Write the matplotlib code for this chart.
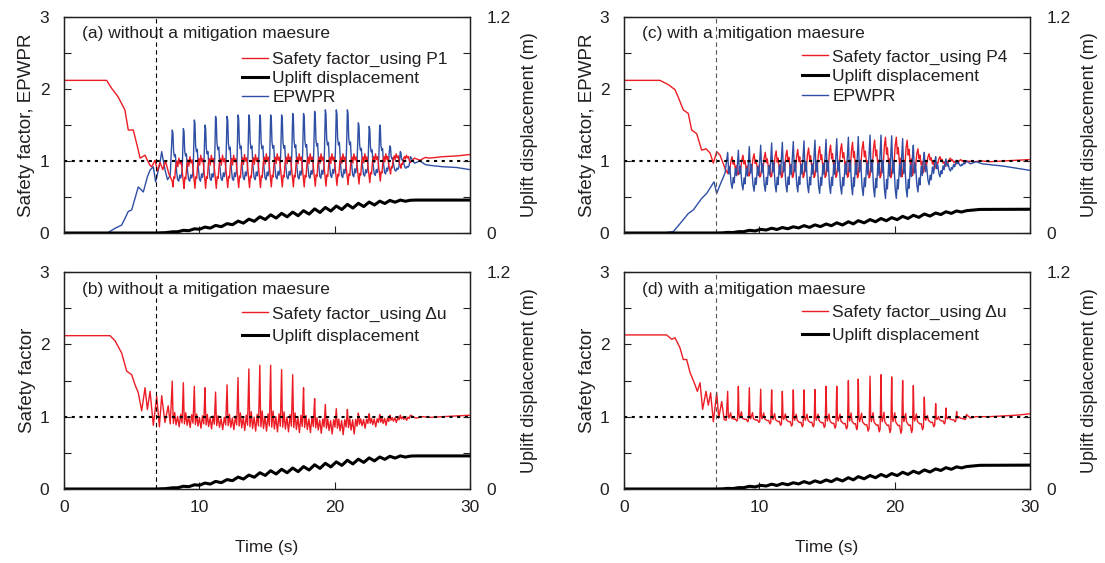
import matplotlib
matplotlib.use("Agg")
import matplotlib.pyplot as plt
from matplotlib.lines import Line2D

plt.rcParams['font.family'] = ['Liberation Sans', 'DejaVu Sans']
plt.rcParams['font.size'] = 12.5
TXT = '#231f20'
RED = '#ec1c24'
BLUE = '#2f4fa5'

# ---------------- shaking cycles (spike times, s) ----------------
cycles_left = [8.0, 8.82, 9.63, 10.42, 11.2, 12.05, 12.86, 13.66, 14.47, 15.27, 16.08,
               16.9, 17.7, 18.52, 19.31, 20.12, 20.94, 21.75, 22.55, 23.33, 24.08, 24.85, 25.6]
cycles_right = [7.66, 8.45, 9.26, 10.1, 10.91, 11.7, 12.51, 13.3, 14.11, 14.93, 15.72,
                16.58, 17.31, 18.18, 18.99, 19.78, 20.59, 21.38, 22.19, 23.03, 23.79, 24.58, 25.3]

# ---------------- (a) safety factor using P1 ----------------
sf_p1_lead_t = [0, 3.15, 3.52, 4.0, 4.5, 4.75, 5.12, 5.49, 5.62, 5.99, 6.16, 6.36, 6.48,
                6.73, 6.9, 7.1, 7.3, 7.5, 7.75]
sf_p1_lead_v = [2.12, 2.12, 2.01, 1.89, 1.71, 1.43, 1.43, 1.15, 1.04, 1.08, 1.01, 0.94, 0.92,
                1.01, 0.86, 0.98, 0.88, 1.0, 0.82]
sf_p1_peak = [1.04, 1.06, 1.08, 1.08, 1.08, 1.08, 1.09, 1.09, 1.10, 1.10, 1.10,
              1.10, 1.10, 1.10, 1.10, 1.10, 1.10, 1.10, 1.10, 1.10, 1.10, 1.08]
sf_p1_trough = [0.64, 0.62, 0.62, 0.62, 0.62, 0.63, 0.63, 0.63, 0.63, 0.64, 0.64,
                0.64, 0.64, 0.65, 0.65, 0.66, 0.67, 0.68, 0.70, 0.72, 0.82, 0.90]
sf_p1_tail_t = [25.6, 25.9, 26.3, 26.7, 27.0, 28.0, 29.0, 30.0]
sf_p1_tail_v = [0.98, 1.04, 1.01, 1.05, 1.04, 1.06, 1.07, 1.09]

# ---------------- (a) EPWPR ----------------
epwpr_a_lead_t = [0, 3.2, 3.77, 4.26, 4.5, 4.75, 5.0, 5.2, 5.49, 5.86, 6.16, 6.36, 6.6,
                  6.77, 7.09, 7.22, 7.47, 7.65, 7.85]
epwpr_a_lead_v = [0, 0, 0.065, 0.11, 0.2, 0.30, 0.32, 0.45, 0.64, 0.57, 0.78, 0.875, 0.92,
                  0.71, 0.97, 1.13, 0.87, 0.74, 0.8]
epwpr_a_peak = [1.43, 1.45, 1.57, 1.50, 1.62, 1.62, 1.64, 1.64, 1.64, 1.64, 1.64,
                1.66, 1.66, 1.69, 1.71, 1.71, 1.71, 1.53, 1.48, 1.50, 1.21, 1.13]
epwpr_a_trough = [0.72, 0.72, 0.72, 0.73, 0.73, 0.73, 0.74, 0.74, 0.74, 0.75, 0.75,
                  0.75, 0.76, 0.76, 0.77, 0.77, 0.78, 0.79, 0.80, 0.82, 0.86, 0.90]
epwpr_a_tail_t = [25.6, 25.9, 26.3, 26.7, 27.0, 28.0, 29.0, 30.0]
epwpr_a_tail_v = [1.06, 0.97, 1.0, 0.95, 0.94, 0.92, 0.91, 0.88]

# ---------------- (b) safety factor using du ----------------
sf_du_b_lead_t = [0, 3.4, 3.77, 4.26, 4.63, 5.0, 5.25, 5.49, 5.74, 5.99, 6.16, 6.36, 6.6,
                  6.85, 7.05, 7.22, 7.46, 7.7, 7.85]
sf_du_b_lead_v = [2.12, 2.12, 2.05, 1.88, 1.63, 1.58, 1.44, 1.33, 1.08, 1.40, 1.10, 1.35, 0.88,
                  1.28, 0.86, 1.29, 0.92, 1.15, 0.9]
sf_du_b_peak = [1.49, 1.47, 1.42, 1.40, 1.34, 1.44, 1.54, 1.66, 1.71, 1.71, 1.65,
                1.58, 1.40, 1.25, 1.17, 1.11, 1.10, 1.05, 1.04, 1.03, 1.02, 1.02]
sf_du_b_base = [0.95, 0.95, 0.94, 0.94, 0.93, 0.93, 0.93, 0.92, 0.92, 0.92, 0.92,
                0.92, 0.92, 0.92, 0.92, 0.93, 0.94, 0.95, 0.96, 0.97, 0.98, 0.99]
sf_du_b_trough = [0.86, 0.85, 0.84, 0.83, 0.82, 0.82, 0.81, 0.80, 0.80, 0.79, 0.79,
                  0.78, 0.78, 0.77, 0.76, 0.75, 0.76, 0.84, 0.86, 0.88, 0.92, 0.95]
sf_du_b_tail_t = [25.6, 26.0, 26.5, 27.0, 28.0, 29.0, 30.0]
sf_du_b_tail_v = [1.02, 0.98, 1.0, 0.99, 1.0, 1.01, 1.02]

# ---------------- uplift displacement, without mitigation (m) ----------------
uplift_l_lead_t = [0, 6.7, 7.5]
uplift_l_lead_v = [0, 0, 0.002]
uplift_l_upper = [0.0065, 0.015, 0.023, 0.033, 0.042, 0.052, 0.066, 0.077, 0.090, 0.101, 0.109,
                  0.116, 0.124, 0.134, 0.142, 0.150, 0.159, 0.165, 0.172, 0.177, 0.181, 0.183]
uplift_l_lower = [0.007, 0.013, 0.021, 0.027, 0.035, 0.046, 0.055, 0.065, 0.075, 0.083, 0.090,
                  0.096, 0.105, 0.114, 0.122, 0.1305, 0.1385, 0.147, 0.1555, 0.164, 0.171, 0.1765]
uplift_l_tail_t = [25.6, 26.0, 30.0]
uplift_l_tail_v = [0.182, 0.183, 0.183]

# ---------------- (c) safety factor using P4 ----------------
sf_p4_lead_t = [0, 2.66, 3.28, 3.77, 4.0, 4.38, 4.75, 5.0, 5.37, 5.74, 6.06, 6.36, 6.6,
                6.85, 7.1, 7.46]
sf_p4_lead_v = [2.12, 2.12, 2.06, 1.99, 1.89, 1.71, 1.66, 1.43, 1.38, 1.15, 1.17, 1.11, 0.97,
                1.13, 1.08, 0.90]
sf_p4_peak = [1.06, 1.08, 1.10, 1.12, 1.14, 1.15, 1.16, 1.18, 1.20, 1.22, 1.24,
              1.26, 1.27, 1.29, 1.33, 1.33, 1.29, 1.17, 1.10, 1.06, 1.04, 1.02]
sf_p4_trough = [0.80, 0.78, 0.76, 0.76, 0.75, 0.75, 0.75, 0.75, 0.75, 0.75, 0.75,
                0.74, 0.74, 0.74, 0.74, 0.75, 0.77, 0.82, 0.88, 0.92, 0.95, 0.97]
sf_p4_tail_t = [25.3, 25.8, 26.5, 27.0, 28.0, 29.0, 30.0]
sf_p4_tail_v = [1.0, 0.99, 1.0, 0.99, 1.0, 1.01, 1.02]

# ---------------- (c) EPWPR ----------------
epwpr_c_lead_t = [0, 2.9, 3.65, 4.14, 4.75, 5.12, 5.74, 6.11, 6.65, 6.85, 7.1, 7.46]
epwpr_c_lead_v = [0, 0, 0.02, 0.13, 0.27, 0.32, 0.48, 0.55, 0.71, 0.55, 0.67, 0.83]
epwpr_c_peak = [1.12, 1.15, 1.20, 1.22, 1.25, 1.26, 1.27, 1.28, 1.29, 1.30, 1.31,
                1.33, 1.34, 1.36, 1.36, 1.35, 1.31, 1.22, 1.12, 1.06, 1.03, 1.01]
epwpr_c_trough = [0.62, 0.60, 0.58, 0.58, 0.57, 0.57, 0.57, 0.56, 0.55, 0.55, 0.54,
                  0.53, 0.52, 0.50, 0.48, 0.48, 0.50, 0.57, 0.67, 0.78, 0.86, 0.93]
epwpr_c_tail_t = [25.3, 25.6, 26.0, 26.5, 27.0, 28.0, 29.0, 30.0]
epwpr_c_tail_v = [1.0, 0.96, 0.99, 0.96, 0.95, 0.93, 0.90, 0.87]

# ---------------- (d) safety factor using du ----------------
sf_du_d_lead_t = [0, 3.15, 3.52, 3.77, 4.14, 4.38, 4.63, 4.88, 5.25, 5.42, 5.62, 5.81, 6.06,
                  6.23, 6.4, 6.6, 6.85, 7.0, 7.22, 7.4, 7.55]
sf_du_d_lead_v = [2.13, 2.13, 2.07, 2.09, 1.95, 1.79, 1.79, 1.61, 1.44, 1.35, 1.47, 1.10, 1.35,
                  1.16, 1.33, 0.93, 1.33, 0.98, 1.21, 0.96, 0.95]
sf_du_d_peak = [1.35, 1.42, 1.40, 1.38, 1.37, 1.35, 1.37, 1.37, 1.375, 1.42, 1.42,
                1.50, 1.52, 1.56, 1.58, 1.55, 1.50, 1.43, 1.27, 1.18, 1.12, 1.07]
sf_du_d_base = [0.98, 0.98, 0.97, 0.97, 0.96, 0.96, 0.95, 0.95, 0.95, 0.94, 0.94,
                0.94, 0.93, 0.93, 0.93, 0.93, 0.93, 0.94, 0.95, 0.96, 0.97, 0.98]
sf_du_d_trough = [0.94, 0.93, 0.92, 0.90, 0.88, 0.87, 0.86, 0.86, 0.85, 0.84, 0.83,
                  0.82, 0.80, 0.79, 0.78, 0.77, 0.78, 0.82, 0.86, 0.90, 0.93, 0.96]
sf_du_d_tail_t = [25.3, 25.6, 26.0, 27.0, 28.0, 29.0, 30.0]
sf_du_d_tail_v = [1.03, 0.98, 1.0, 1.0, 1.01, 1.02, 1.04]

# ---------------- uplift displacement, with mitigation (m) ----------------
uplift_r_lead_t = [0, 6.7, 7.3]
uplift_r_lead_v = [0, 0, 0.001]
uplift_r_upper = [0.0035, 0.0075, 0.015, 0.020, 0.0265, 0.0305, 0.0345, 0.041, 0.045, 0.050, 0.0565,
                  0.0625, 0.0685, 0.0745, 0.0805, 0.0855, 0.0925, 0.0985, 0.1055, 0.111, 0.118, 0.1225]
uplift_r_lower = [0.0025, 0.0075, 0.0115, 0.0165, 0.0195, 0.0235, 0.028, 0.031, 0.0355, 0.0405, 0.0445,
                  0.0505, 0.0565, 0.0625, 0.068, 0.074, 0.0805, 0.087, 0.094, 0.1025, 0.109, 0.1165]
uplift_r_tail_t = [25.3, 26.3, 30.0]
uplift_r_tail_v = [0.124, 0.131, 0.132]

liquefaction_onset = 6.77

# waveform of one loading cycle: (fraction of cycle, weight)
# two-level shapes: weight 0 = trough, 1 = peak
# three-level shapes: weight 1 = peak, 0 = base level, -1 = trough
SHAPE_EPWPR_SPIKE = [(0.0, 1.0), (0.06, 0.94), (0.12, 0.58), (0.2, 0.48), (0.28, 0.52),
                     (0.38, 0.2), (0.48, 0.03), (0.58, 0.0), (0.68, 0.12), (0.76, 0.06),
                     (0.86, 0.15), (0.92, 0.4)]
SHAPE_SF_P1 = [(0.0, 0.2), (0.06, 0.0), (0.14, 0.35), (0.22, 0.3), (0.32, 0.75), (0.42, 0.9),
               (0.5, 0.7), (0.6, 1.0), (0.7, 0.8), (0.8, 0.9), (0.9, 0.55)]
SHAPE_SF_DU_B = [(0.0, 1.0), (0.05, 0.3), (0.1, -0.5), (0.22, 0.2), (0.34, -0.7), (0.48, 0.1),
                 (0.62, -1.0), (0.76, 0.15), (0.88, -0.4)]
SHAPE_SF_DU_D = [(0.0, 1.0), (0.06, 0.1), (0.12, 0.0), (0.2, 0.1), (0.28, 0.2), (0.36, 0.0),
                 (0.48, -0.2), (0.6, -0.35), (0.72, -0.3), (0.84, -1.0), (0.92, -0.7)]
SHAPE_EPWPR_C = [(0.0, 1.0), (0.1, 0.4), (0.2, 0.6), (0.32, 0.15), (0.42, 0.0), (0.52, 0.3),
                 (0.6, 0.15), (0.72, 0.55), (0.82, 0.35), (0.92, 0.7)]
SHAPE_SF_P4 = [(0.0, 0.1), (0.1, 0.45), (0.2, 0.3), (0.32, 0.8), (0.42, 1.0), (0.52, 0.6),
               (0.6, 0.75), (0.72, 0.35), (0.82, 0.5), (0.92, 0.05)]
SHAPE_UPLIFT = [(0.0, 1.0), (0.5, 0.0)]


def series(lead_t, lead_v, times, peaks, troughs, shape, tail_t, tail_v, base=None):
    ts, vs = list(lead_t), list(lead_v)
    for i in range(len(peaks)):
        t0, t1 = times[i], times[i + 1]
        for f, w in shape:
            ts.append(t0 + f * (t1 - t0))
            if base is None:
                vs.append(troughs[i] + w * (peaks[i] - troughs[i]))
            elif w >= 0:
                vs.append(base[i] + w * (peaks[i] - base[i]))
            else:
                vs.append(base[i] - w * (troughs[i] - base[i]))
    ts += list(tail_t)
    vs += list(tail_v)
    return ts, vs


fig = plt.figure(figsize=(11.05, 5.63), dpi=100)
W, H = 1105.0, 563.0


def make_axes(x0, x1, y0, y1):
    return fig.add_axes([x0 / W, 1 - y1 / H, (x1 - x0) / W, (y1 - y0) / H])


def style(ax, ax2, ylabel, bottom, vcolor):
    ax.set_xlim(0, 30)
    ax.set_ylim(0, 3)
    ax2.set_ylim(0, 1.2)
    ax.set_xticks([0, 10, 20, 30])
    ax.set_yticks([0, 0.5, 1, 1.5, 2, 2.5, 3])
    ax.set_yticklabels(['0', '', '1', '', '2', '', '3'])
    ax2.set_yticks([0, 0.2, 0.4, 0.6, 0.8, 1.0, 1.2])
    ax2.set_yticklabels(['0', '', '', '', '', '', '1.2'])
    for a in (ax, ax2):
        a.tick_params(direction='in', length=5, width=0.8, colors=TXT, labelsize=12.5)
        for s in a.spines.values():
            s.set_linewidth(0.9)
            s.set_color(TXT)
    ax.tick_params(axis='y', pad=10.5)
    ax.tick_params(axis='x', pad=8)
    ax2.tick_params(axis='y', pad=12)
    if bottom:
        ax.set_xticklabels(['0', '10', '20', '30'])
        ax.set_xlabel('Time (s)', color=TXT, fontsize=12.5, labelpad=18)
    else:
        ax.set_xticklabels([])
    ax.set_ylabel(ylabel, color=TXT, fontsize=13.5, labelpad=3)
    ax2.set_ylabel('Uplift displacement (m)', color=TXT, fontsize=13, labelpad=7.5)
    ax.axhline(1.0, color='black', lw=1.5, ls=(0, (1.5, 2.2)), zorder=6)
    ax.axvline(liquefaction_onset, color=vcolor, lw=0.8, ls=(0, (4, 3)), zorder=6)


def legend(ax2, handles, labels, y, spacing):
    ax2.legend(handles, labels, loc='upper left', bbox_to_anchor=(0.438, y), frameon=False,
               borderpad=0, borderaxespad=0, handlelength=1.5, handletextpad=0.25,
               labelspacing=spacing, fontsize=12.5, labelcolor=TXT)


panels = [
    # (x0, x1, y0, y1)
    (64, 470, 17, 233),
    (64, 470, 272, 489),
    (624, 1030, 17, 233),
    (624, 1030, 272, 489),
]

# ---- (a)
ax = make_axes(*panels[0]); ax2 = ax.twinx()
t, v = series(epwpr_a_lead_t, epwpr_a_lead_v, cycles_left, epwpr_a_peak, epwpr_a_trough,
              SHAPE_EPWPR_SPIKE, epwpr_a_tail_t, epwpr_a_tail_v)
ax.plot(t, v, color=BLUE, lw=1.0, zorder=3)
t, v = series(sf_p1_lead_t, sf_p1_lead_v, cycles_left, sf_p1_peak, sf_p1_trough, SHAPE_SF_P1,
              sf_p1_tail_t, sf_p1_tail_v)
ax.plot(t, v, color=RED, lw=1.0, zorder=4)
t, v = series(uplift_l_lead_t, uplift_l_lead_v, cycles_left, uplift_l_upper, uplift_l_lower,
              SHAPE_UPLIFT, uplift_l_tail_t, uplift_l_tail_v)
ax2.plot(t, v, color='black', lw=2.2)
style(ax, ax2, 'Safety factor, EPWPR', False, 'black')
ax.text(0.044, 0.925, '(a) without a mitigation maesure', transform=ax.transAxes,
        color=TXT, fontsize=12.5, va='center')
legend(ax2, [Line2D([], [], color=RED, lw=1.0), Line2D([], [], color='black', lw=2.2),
             Line2D([], [], color=BLUE, lw=1.0)],
       ['Safety factor_using P1', 'Uplift displacement', 'EPWPR'], 0.84, 0.22)

# ---- (b)
ax = make_axes(*panels[1]); ax2 = ax.twinx()
t, v = series(sf_du_b_lead_t, sf_du_b_lead_v, cycles_left, sf_du_b_peak, sf_du_b_trough,
              SHAPE_SF_DU_B, sf_du_b_tail_t, sf_du_b_tail_v, base=sf_du_b_base)
ax.plot(t, v, color=RED, lw=1.0, zorder=3)
t, v = series(uplift_l_lead_t, uplift_l_lead_v, cycles_left, uplift_l_upper, uplift_l_lower,
              SHAPE_UPLIFT, uplift_l_tail_t, uplift_l_tail_v)
ax2.plot(t, v, color='black', lw=2.2)
style(ax, ax2, 'Safety factor', True, 'black')
ax.text(0.044, 0.92, '(b) without a mitigation maesure', transform=ax.transAxes,
        color=TXT, fontsize=12.5, va='center')
legend(ax2, [Line2D([], [], color=RED, lw=1.0), Line2D([], [], color='black', lw=2.2)],
       ['Safety factor_using \u0394u', 'Uplift displacement'], 0.842, 0.44)

# ---- (c)
ax = make_axes(*panels[2]); ax2 = ax.twinx()
t, v = series(sf_p4_lead_t, sf_p4_lead_v, cycles_right, sf_p4_peak, sf_p4_trough, SHAPE_SF_P4,
              sf_p4_tail_t, sf_p4_tail_v)
ax.plot(t, v, color=RED, lw=1.0, zorder=3)
t, v = series(epwpr_c_lead_t, epwpr_c_lead_v, cycles_right, epwpr_c_peak, epwpr_c_trough,
              SHAPE_EPWPR_C, epwpr_c_tail_t, epwpr_c_tail_v)
ax.plot(t, v, color=BLUE, lw=1.0, zorder=4)
t, v = series(uplift_r_lead_t, uplift_r_lead_v, cycles_right, uplift_r_upper, uplift_r_lower,
              SHAPE_UPLIFT, uplift_r_tail_t, uplift_r_tail_v)
ax2.plot(t, v, color='black', lw=2.2)
style(ax, ax2, 'Safety factor, EPWPR', False, '#555555')
ax.text(0.044, 0.925, '(c) with a mitigation maesure', transform=ax.transAxes,
        color=TXT, fontsize=12.5, va='center')
legend(ax2, [Line2D([], [], color=RED, lw=1.0), Line2D([], [], color='black', lw=2.2),
             Line2D([], [], color=BLUE, lw=1.0)],
       ['Safety factor_using P4', 'Uplift displacement', 'EPWPR'], 0.85, 0.26)

# ---- (d)
ax = make_axes(*panels[3]); ax2 = ax.twinx()
t, v = series(sf_du_d_lead_t, sf_du_d_lead_v, cycles_right, sf_du_d_peak, sf_du_d_trough,
              SHAPE_SF_DU_D, sf_du_d_tail_t, sf_du_d_tail_v, base=sf_du_d_base)
ax.plot(t, v, color=RED, lw=1.0, zorder=3)
t, v = series(uplift_r_lead_t, uplift_r_lead_v, cycles_right, uplift_r_upper, uplift_r_lower,
              SHAPE_UPLIFT, uplift_r_tail_t, uplift_r_tail_v)
ax2.plot(t, v, color='black', lw=2.2)
style(ax, ax2, 'Safety factor', True, '#555555')
ax.text(0.044, 0.92, '(d) with a mitigation maesure', transform=ax.transAxes,
        color=TXT, fontsize=12.5, va='center')
legend(ax2, [Line2D([], [], color=RED, lw=1.0), Line2D([], [], color='black', lw=2.2)],
       ['Safety factor_using \u0394u', 'Uplift displacement'], 0.85, 0.44)

fig.savefig('out.png', dpi=100)
